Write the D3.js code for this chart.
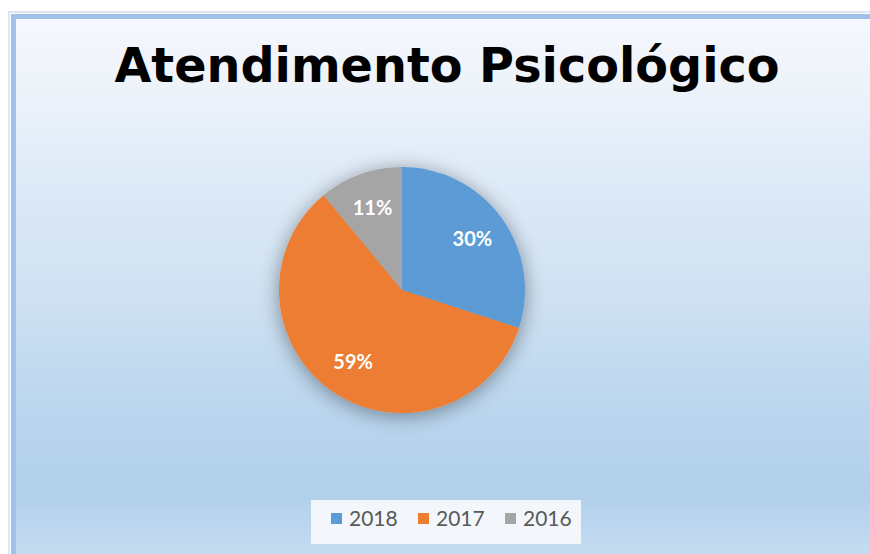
<!DOCTYPE html>
<html>
<head>
<meta charset="utf-8">
<script src="https://cdn.jsdelivr.net/npm/d3@7"></script>
<style>
  html, body { margin: 0; padding: 0; background: #ffffff; }
  svg { display: block; }
</style>
</head>
<body>
<svg id="chart" width="870" height="554"></svg>
<script>
// Chart data
const title = "Atendimento Psicológico";
const categories = ["2018", "2017", "2016"];
const values = [30, 59, 11];
const colors = ["#5b9bd5", "#ed7d31", "#a5a5a5"];

const W = 870, H = 554;
const svg = d3.select("#chart");
const defs = svg.append("defs");

// Background gradient of the chart area
const bg = defs.append("linearGradient")
  .attr("id", "bgGrad").attr("x1", 0).attr("y1", 0).attr("x2", 0).attr("y2", 1);
[
  [0.00, "#f5f8fd"],
  [0.12, "#eef3fa"],
  [0.25, "#e1ecf8"],
  [0.50, "#cfe1f2"],
  [0.72, "#b9d5ee"],
  [0.86, "#b2d0eb"],
  [0.92, "#bcd6ef"],
  [1.00, "#cddff1"]
].forEach(([o, c]) => bg.append("stop").attr("offset", o).attr("stop-color", c));

// Soft shadow under the pie
const shadow = defs.append("filter").attr("id", "pieShadow")
  .attr("x", "-30%").attr("y", "-30%").attr("width", "160%").attr("height", "160%");
shadow.append("feGaussianBlur").attr("in", "SourceAlpha").attr("stdDeviation", 10).attr("result", "blur");
shadow.append("feOffset").attr("in", "blur").attr("dx", 0).attr("dy", 3).attr("result", "off");
shadow.append("feComponentTransfer").attr("in", "off").attr("result", "soft")
  .append("feFuncA").attr("type", "linear").attr("slope", 0.4);
const merge = shadow.append("feMerge");
merge.append("feMergeNode").attr("in", "soft");
merge.append("feMergeNode").attr("in", "SourceGraphic");

// Frame lines on the left and top
svg.append("rect").attr("x", 8).attr("y", 11).attr("width", W).attr("height", H)
  .attr("fill", "#dbe7f5");
svg.append("rect").attr("x", 10).attr("y", 13).attr("width", W).attr("height", H)
  .attr("fill", "#ffffff");
svg.append("rect").attr("x", 11).attr("y", 14).attr("width", W).attr("height", H)
  .attr("fill", "#9fc1e8");
svg.append("rect").attr("x", 16).attr("y", 19).attr("width", W).attr("height", H)
  .attr("fill", "url(#bgGrad)");

// Title
svg.append("text")
  .attr("x", 447).attr("y", 82)
  .attr("text-anchor", "middle")
  .attr("font-family", "DejaVu Sans, Verdana, sans-serif")
  .attr("font-weight", "bold")
  .attr("font-size", 47.7)
  .attr("fill", "#000000")
  .text(title);

// Pie
const cx = 402, cy = 290, R = 123;
const pie = d3.pie().sort(null).value(d => d.value);
const arcs = pie(categories.map((c, i) => ({ cat: c, value: values[i], color: colors[i] })));
const arc = d3.arc().innerRadius(0).outerRadius(R);
const labelArc = d3.arc().innerRadius(87).outerRadius(87);

const g = svg.append("g").attr("transform", `translate(${cx},${cy})`);
g.append("g").attr("filter", "url(#pieShadow)")
  .selectAll("path").data(arcs).join("path")
  .attr("d", arc)
  .attr("fill", d => d.data.color);

g.selectAll("text.lbl").data(arcs).join("text")
  .attr("class", "lbl")
  .attr("transform", d => `translate(${labelArc.centroid(d)})`)
  .attr("text-anchor", "middle")
  .attr("dy", "0.35em")
  .attr("font-family", "Lato, 'Open Sans', sans-serif")
  .attr("font-weight", "bold")
  .attr("font-size", 20)
  .attr("fill", "#ffffff")
  .text(d => d.data.value + "%");

// Legend
const legend = svg.append("g");
legend.append("rect").attr("x", 311).attr("y", 500).attr("width", 270).attr("height", 44)
  .attr("fill", "#f3f7fc");
const legendX = [331, 418, 505];
const items = legend.selectAll("g.item").data(categories).join("g")
  .attr("class", "item")
  .attr("transform", (d, i) => `translate(${legendX[i]},512)`);
items.append("rect").attr("x", 0).attr("y", 1).attr("width", 11).attr("height", 11)
  .attr("fill", (d, i) => colors[i]);
items.append("text").attr("x", 18).attr("y", 6.5).attr("dy", "0.36em")
  .attr("font-family", "Lato, 'Open Sans', sans-serif")
  .attr("font-size", 21)
  .attr("fill", "#595959")
  .text(d => d);
</script>
</body>
</html>
